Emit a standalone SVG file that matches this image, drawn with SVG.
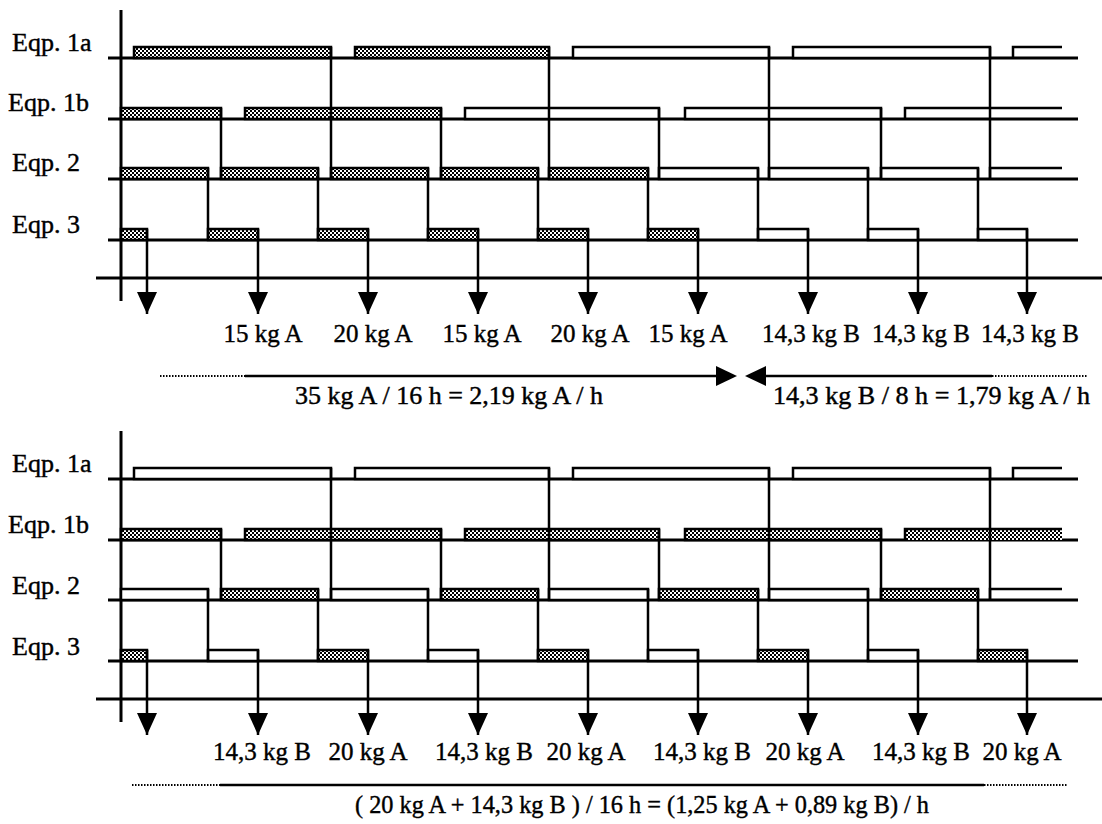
<svg xmlns="http://www.w3.org/2000/svg" width="1102" height="824" viewBox="0 0 1102 824">
<defs>
<pattern id="hatch" width="4" height="4" patternUnits="userSpaceOnUse">
<rect width="4" height="4" fill="#fff"/>
<rect x="0" y="0" width="2" height="2" fill="#000"/>
<rect x="2" y="2" width="2" height="2" fill="#000"/>
</pattern>
<marker id="ah" viewBox="0 0 22 20" refX="22" refY="10" markerWidth="22" markerHeight="20" markerUnits="userSpaceOnUse" orient="auto"><path d="M0,0 L22,10 L0,20 Z" fill="#000"/></marker>
</defs>
<style>
text{font-family:"Liberation Serif","Times New Roman",serif;fill:#000;stroke:#000;stroke-width:0.4}
.lab{font-size:26px}
.q{font-size:25px;text-anchor:middle}
.f{font-size:25px}
.ln{stroke:#000;stroke-width:2.5;fill:none}
.base{stroke:#000;stroke-width:3;fill:none}
.h{fill:url(#hatch);stroke:#000;stroke-width:2.5}
.w{fill:#fff;stroke:#000;stroke-width:2.5}
.hf{fill:url(#hatch);stroke:none}
.dot{stroke:#000;stroke-width:2;stroke-dasharray:1.5 1.5;fill:none}
.arr{stroke:#000;stroke-width:2.5;fill:none}
</style>

<!-- ===== TOP CHART ===== -->
<g id="top-labels">
<text class="lab" x="12" y="51">Eqp. 1a</text>
<text class="lab" x="8" y="111">Eqp. 1b</text>
<text class="lab" x="12" y="171">Eqp. 2</text>
<text class="lab" x="12" y="233">Eqp. 3</text>
</g>
<g id="top-axes">
<line class="base" x1="121" y1="10" x2="121" y2="301"/>
<line class="base" x1="108" y1="58" x2="1078" y2="58"/>
<line class="base" x1="108" y1="119" x2="1078" y2="119"/>
<line class="base" x1="108" y1="179" x2="1078" y2="179"/>
<line class="base" x1="108" y1="240" x2="1078" y2="240"/>
<line class="base" x1="96" y1="278" x2="1102" y2="278"/>
</g>
<g id="top-eqp1a">
<path class="h" d="M134,58 V47 H331 V58 Z"/>
<path class="h" d="M355,58 V47 H549 V58 Z"/>
<path class="w" d="M573,58 V47 H769 V58 Z"/>
<path class="w" d="M793,58 V47 H990 V58 Z"/>
<path class="ln" d="M1013,58 V47 H1062"/>
</g>
<g id="top-eqp1b">
<path class="h" d="M121,119 V108 H221 V119 Z"/>
<path class="h" d="M245,119 V108 H441 V119 Z"/>
<path class="w" d="M465,119 V108 H659 V119 Z"/>
<path class="w" d="M685,119 V108 H881 V119 Z"/>
<path class="ln" d="M905,119 V108 H1062"/>
</g>
<g id="top-eqp2">
<path class="h" d="M121,179 V168 H208 V179 Z"/>
<path class="h" d="M221,179 V168 H318 V179 Z"/>
<path class="h" d="M331,179 V168 H428 V179 Z"/>
<path class="h" d="M441,179 V168 H538 V179 Z"/>
<path class="h" d="M549,179 V168 H648 V179 Z"/>
<path class="w" d="M659,179 V168 H758 V179 Z"/>
<path class="w" d="M769,179 V168 H868 V179 Z"/>
<path class="w" d="M881,179 V168 H978 V179 Z"/>
<path class="ln" d="M990,179 V168 H1062"/>
</g>
<g id="top-eqp3">
<path class="h" d="M121,240 V229 H147 V240 Z"/>
<path class="h" d="M208,240 V229 H258 V240 Z"/>
<path class="h" d="M318,240 V229 H368 V240 Z"/>
<path class="h" d="M428,240 V229 H478 V240 Z"/>
<path class="h" d="M538,240 V229 H588 V240 Z"/>
<path class="h" d="M648,240 V229 H698 V240 Z"/>
<path class="w" d="M758,240 V229 H808 V240 Z"/>
<path class="w" d="M868,240 V229 H918 V240 Z"/>
<path class="w" d="M978,240 V229 H1027 V240 Z"/>
</g>
<g id="top-connectors">
<path class="ln" d="M331,47 V179 M549,47 V179 M769,47 V179 M990,47 V179"/>
<path class="ln" d="M221,108 V179 M441,108 V179 M659,108 V179 M881,108 V179"/>
<path class="ln" d="M208,168 V240 M318,168 V240 M428,168 V240 M538,168 V240 M648,168 V240 M758,168 V240 M868,168 V240 M978,168 V240"/>
<path class="ln" marker-end="url(#ah)" d="M147,229 V314"/>
<path class="ln" marker-end="url(#ah)" d="M258,229 V314"/>
<path class="ln" marker-end="url(#ah)" d="M368,229 V314"/>
<path class="ln" marker-end="url(#ah)" d="M478,229 V314"/>
<path class="ln" marker-end="url(#ah)" d="M588,229 V314"/>
<path class="ln" marker-end="url(#ah)" d="M698,229 V314"/>
<path class="ln" marker-end="url(#ah)" d="M808,229 V314"/>
<path class="ln" marker-end="url(#ah)" d="M918,229 V314"/>
<path class="ln" marker-end="url(#ah)" d="M1027,229 V314"/>
</g>
<g id="top-quantities">
<text class="q" x="263" y="342">15 kg A</text>
<text class="q" x="373" y="342">20 kg A</text>
<text class="q" x="482" y="342">15 kg A</text>
<text class="q" x="590" y="342">20 kg A</text>
<text class="q" x="688" y="342">15 kg A</text>
<text class="q" x="811" y="342">14,3 kg B</text>
<text class="q" x="921" y="342">14,3 kg B</text>
<text class="q" x="1030" y="342">14,3 kg B</text>
</g>
<g id="top-rate">
<line class="dot" x1="160" y1="376" x2="245" y2="376"/>
<line class="arr" x1="245" y1="376" x2="720" y2="376"/>
<polygon points="716,366 737,376 716,386" fill="#000"/>
<polygon points="745,376 766,366 766,386" fill="#000"/>
<line class="arr" x1="762" y1="376" x2="992" y2="376"/>
<line class="dot" x1="992" y1="376" x2="1088" y2="376"/>
<text class="f" x="295" y="404" textLength="308" lengthAdjust="spacingAndGlyphs">35 kg A / 16 h = 2,19 kg A / h</text>
<text class="f" x="773" y="404" textLength="317" lengthAdjust="spacingAndGlyphs">14,3 kg B / 8 h = 1,79 kg A / h</text>
</g>

<!-- ===== BOTTOM CHART ===== -->
<g id="bottom-labels">
<text class="lab" x="12" y="472">Eqp. 1a</text>
<text class="lab" x="8" y="533">Eqp. 1b</text>
<text class="lab" x="12" y="594">Eqp. 2</text>
<text class="lab" x="12" y="655">Eqp. 3</text>
</g>
<g id="bottom-axes">
<line class="base" x1="121" y1="431" x2="121" y2="722"/>
<line class="base" x1="108" y1="479" x2="1078" y2="479"/>
<line class="base" x1="108" y1="540" x2="1078" y2="540"/>
<line class="base" x1="108" y1="600" x2="1078" y2="600"/>
<line class="base" x1="108" y1="661" x2="1078" y2="661"/>
<line class="base" x1="96" y1="699" x2="1102" y2="699"/>
</g>
<g id="bottom-eqp1a">
<path class="w" d="M134,479 V468 H331 V479 Z"/>
<path class="w" d="M355,479 V468 H549 V479 Z"/>
<path class="w" d="M573,479 V468 H769 V479 Z"/>
<path class="w" d="M793,479 V468 H990 V479 Z"/>
<path class="ln" d="M1013,479 V468 H1062"/>
</g>
<g id="bottom-eqp1b">
<path class="h" d="M121,540 V529 H221 V540 Z"/>
<path class="h" d="M245,540 V529 H441 V540 Z"/>
<path class="h" d="M465,540 V529 H659 V540 Z"/>
<path class="h" d="M685,540 V529 H881 V540 Z"/>
<rect class="hf" x="905" y="529" width="157" height="11"/>
<path class="ln" d="M905,540 V529 H1062"/>
</g>
<g id="bottom-eqp2">
<path class="w" d="M121,600 V589 H208 V600 Z"/>
<path class="h" d="M221,600 V589 H318 V600 Z"/>
<path class="w" d="M331,600 V589 H428 V600 Z"/>
<path class="h" d="M441,600 V589 H538 V600 Z"/>
<path class="w" d="M549,600 V589 H648 V600 Z"/>
<path class="h" d="M659,600 V589 H758 V600 Z"/>
<path class="w" d="M769,600 V589 H868 V600 Z"/>
<path class="h" d="M881,600 V589 H978 V600 Z"/>
<path class="ln" d="M990,600 V589 H1062"/>
</g>
<g id="bottom-eqp3">
<path class="h" d="M121,661 V650 H147 V661 Z"/>
<path class="w" d="M208,661 V650 H258 V661 Z"/>
<path class="h" d="M318,661 V650 H368 V661 Z"/>
<path class="w" d="M428,661 V650 H478 V661 Z"/>
<path class="h" d="M538,661 V650 H588 V661 Z"/>
<path class="w" d="M648,661 V650 H698 V661 Z"/>
<path class="h" d="M758,661 V650 H808 V661 Z"/>
<path class="w" d="M868,661 V650 H918 V661 Z"/>
<path class="h" d="M978,661 V650 H1027 V661 Z"/>
</g>
<g id="bottom-connectors">
<path class="ln" d="M331,468 V600 M549,468 V600 M769,468 V600 M990,468 V600"/>
<path class="ln" d="M221,529 V600 M441,529 V600 M659,529 V600 M881,529 V600"/>
<path class="ln" d="M208,589 V661 M318,589 V661 M428,589 V661 M538,589 V661 M648,589 V661 M758,589 V661 M868,589 V661 M978,589 V661"/>
<path class="ln" marker-end="url(#ah)" d="M147,650 V735"/>
<path class="ln" marker-end="url(#ah)" d="M258,650 V735"/>
<path class="ln" marker-end="url(#ah)" d="M368,650 V735"/>
<path class="ln" marker-end="url(#ah)" d="M478,650 V735"/>
<path class="ln" marker-end="url(#ah)" d="M588,650 V735"/>
<path class="ln" marker-end="url(#ah)" d="M698,650 V735"/>
<path class="ln" marker-end="url(#ah)" d="M808,650 V735"/>
<path class="ln" marker-end="url(#ah)" d="M918,650 V735"/>
<path class="ln" marker-end="url(#ah)" d="M1027,650 V735"/>
</g>
<g id="bottom-quantities">
<text class="q" x="262" y="760">14,3 kg B</text>
<text class="q" x="368" y="760">20 kg A</text>
<text class="q" x="484" y="760">14,3 kg B</text>
<text class="q" x="586" y="760">20 kg A</text>
<text class="q" x="702" y="760">14,3 kg B</text>
<text class="q" x="805" y="760">20 kg A</text>
<text class="q" x="921" y="760">14,3 kg B</text>
<text class="q" x="1022" y="760">20 kg A</text>
</g>
<g id="bottom-rate">
<line class="dot" x1="132" y1="785" x2="220" y2="785"/>
<line class="arr" x1="220" y1="785" x2="984" y2="785"/>
<line class="dot" x1="984" y1="785" x2="1068" y2="785"/>
<text class="f" x="355" y="813" textLength="574" lengthAdjust="spacingAndGlyphs">( 20 kg A + 14,3 kg B ) / 16 h = (1,25 kg A + 0,89 kg B) / h</text>
</g>
</svg>
